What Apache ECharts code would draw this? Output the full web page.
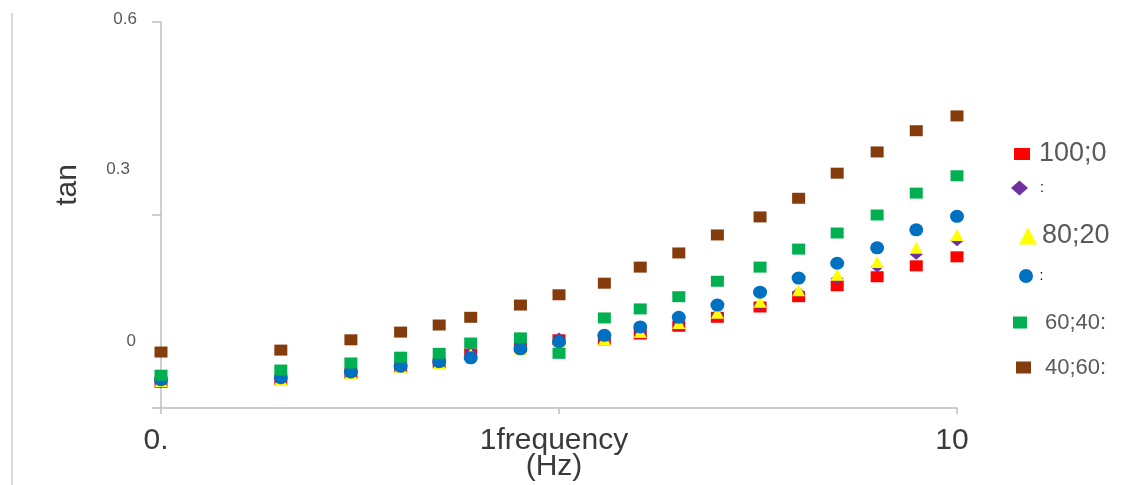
<!DOCTYPE html>
<html>
<head>
<meta charset="utf-8">
<title>tan vs frequency</title>
<script src="https://cdn.jsdelivr.net/npm/echarts@6/dist/echarts.min.js"></script>
<style>
    html, body { margin: 0; padding: 0; background: #fff; }
    #chart { width: 1131px; height: 485px; }
</style>
</head>
<body>
<div id="chart"></div>
<script>
// 频率 (Hz)
var freq = [0.1, 0.2, 0.3, 0.4, 0.5, 0.6, 0.8, 1, 1.3, 1.6, 2, 2.5, 3.2, 4, 5, 6.3, 7.9, 10];

// tan 各配比
var s100_0 = [0.040, 0.044, 0.054, 0.064, 0.070, 0.084, 0.095, 0.106, 0.106, 0.115, 0.127, 0.141, 0.157, 0.173, 0.190, 0.204, 0.221, 0.235];
var s90_10 = [0.040, 0.045, 0.054, 0.065, 0.072, 0.087, 0.096, 0.109, 0.106, 0.117, 0.129, 0.145, 0.160, 0.180, 0.201, 0.219, 0.239, 0.260];
var s80_20 = [0.042, 0.045, 0.054, 0.064, 0.070, 0.084, 0.092, 0.103, 0.107, 0.118, 0.132, 0.148, 0.165, 0.183, 0.207, 0.227, 0.249, 0.269];
var s70_30 = [0.044, 0.047, 0.056, 0.065, 0.072, 0.078, 0.092, 0.103, 0.113, 0.126, 0.141, 0.160, 0.180, 0.202, 0.225, 0.249, 0.277, 0.298];
var s60_40 = [0.051, 0.059, 0.070, 0.079, 0.085, 0.101, 0.109, 0.085, 0.140, 0.154, 0.173, 0.197, 0.219, 0.247, 0.272, 0.300, 0.334, 0.361];
var s40_60 = [0.087, 0.090, 0.106, 0.118, 0.129, 0.141, 0.160, 0.176, 0.194, 0.219, 0.241, 0.269, 0.297, 0.326, 0.365, 0.398, 0.431, 0.454];

var seriesNames = ['100;0', '90;10', '80;20', '70;30', '60;40', '40;60'];
var legendText = ['100;0', ':', '80;20', ':', '60;40:', '40;60:'];
var xTickLabels = ['0.', '1frequency\n(Hz)', '10'];
var yTickLabels = ['0', '0.3', '0.6'];

window.onload = function () {
    var myChart = echarts.init(document.getElementById('chart'));
    var allData = [s100_0, s90_10, s80_20, s70_30, s60_40, s40_60];

    // 样式
    var styles = [
        { color: '#ff0000', symbol: 'rect', size: [13, 11] },
        { color: '#7030a0', symbol: 'diamond', size: [13, 11] },
        { color: '#ffff00', symbol: 'triangle', size: [13, 12] },
        { color: '#0070c0', symbol: 'circle', size: [14, 13] },
        { color: '#00b050', symbol: 'rect', size: [13, 11] },
        { color: '#843c0c', symbol: 'rect', size: [13, 11] }
    ];
    // 图例位置 (非矩形图标会被缩小, 所以给大一点)
    var legendLayout = [
        { left: 1014, cy: 151, w: 16, h: 12, font: 27, pad: [6, 0, 0, 4], color: '#595959' },
        { left: 1011, cy: 188, w: 17, h: 15, font: 14, pad: [0, 0, 0, 7], color: '#000' },
        { left: 1019, cy: 234, w: 18, h: 17, font: 27, pad: [4, 0, 0, 0], color: '#595959' },
        { left: 1019, cy: 276, w: 17, h: 14, font: 14, pad: [0, 0, 0, 0], color: '#000' },
        { left: 1013, cy: 320, w: 14, h: 12, font: 22, pad: [5, 0, 0, 13], color: '#595959' },
        { left: 1016, cy: 365, w: 15, h: 12, font: 22, pad: [5, 0, 0, 9], color: '#595959' }
    ];

    var series = [];
    var legends = [];
    for (var i = 0; i < seriesNames.length; i++) {
        var pts = [];
        for (var j = 0; j < freq.length; j++) {
            pts.push([freq[j], allData[i][j]]);
        }
        series.push({
            name: seriesNames[i],
            type: 'scatter',
            symbol: styles[i].symbol,
            symbolSize: styles[i].size,
            itemStyle: { color: styles[i].color, opacity: 1 },
            data: pts
        });
        var lg = legendLayout[i];
        var lh = lg.font + 2;
        legends.push({
            data: [seriesNames[i]],
            left: lg.left,
            top: lg.cy - lh / 2,
            padding: 0,
            itemWidth: lg.w,
            itemHeight: lg.h,
            selectedMode: false,
            formatter: (function (k) {
                return function () { return legendText[k]; };
            })(i),
            textStyle: {
                fontFamily: 'Liberation Sans',
                fontSize: lg.font,
                lineHeight: lh,
                color: lg.color,
                padding: lg.pad
            }
        });
    }

    var option = {
        animation: false,
        backgroundColor: '#fff',
        textStyle: { fontFamily: 'Liberation Sans' },
        grid: { left: 161, right: 174, top: 22, bottom: 77, containLabel: false },
        legend: legends,
        graphic: [{
            type: 'line',
            shape: { x1: 12, y1: 13, x2: 12, y2: 485 },
            style: { stroke: '#d9d9d9', lineWidth: 2 }
        }],
        xAxis: {
            type: 'log',
            logBase: 10,
            min: 0.1,
            max: 10,
            axisLine: { lineStyle: { color: '#bfbfbf', width: 1.5 } },
            axisTick: { show: true, length: 6, lineStyle: { color: '#bfbfbf', width: 1.5 } },
            minorTick: { show: false },
            splitLine: { show: false },
            axisLabel: {
                margin: 20,
                fontSize: 30,
                lineHeight: 26,
                color: '#3a3a3a',
                padding: [0, 10, 0, 0],
                formatter: function (v) {
                    var k = Math.round(Math.log(v) / Math.LN10) + 1;
                    return xTickLabels[k] || '';
                }
            }
        },
        yAxis: {
            type: 'value',
            min: 0,
            max: 0.6,
            interval: 0.3,
            name: 'tan',
            nameLocation: 'middle',
            nameGap: 78,
            nameRotate: 90,
            nameTextStyle: { fontSize: 30, color: '#3a3a3a', padding: [0, 0, 0, 60] },
            axisLine: { show: true, lineStyle: { color: '#bfbfbf', width: 1.5 } },
            axisTick: { show: true, length: 9, lineStyle: { color: '#bfbfbf', width: 1.5 } },
            splitLine: { show: false },
            axisLabel: {
                margin: 24,
                formatter: function (v) {
                    if (v > 0.5) return '{t|' + yTickLabels[2] + '}';
                    if (v > 0.2) return '{m|' + yTickLabels[1] + '}';
                    return '{b|' + yTickLabels[0] + '}';
                },
                rich: {
                    t: { fontSize: 17, color: '#595959', padding: [0, 0, 5, 0] },
                    m: { fontSize: 17, color: '#595959', padding: [0, 7, 91, 0] },
                    b: { fontSize: 17, color: '#595959', padding: [0, 1, 134, 0] }
                }
            }
        },
        series: series
    };

    myChart.setOption(option);
};
</script>
</body>
</html>
